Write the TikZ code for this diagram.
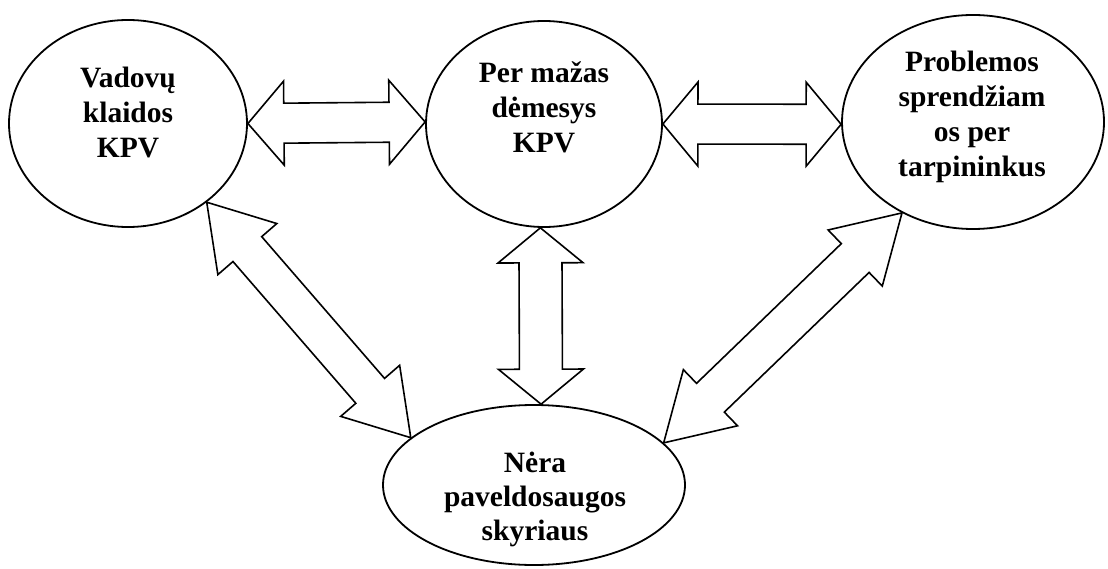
\documentclass[tikz,border=0pt]{standalone}
\usepackage{fontspec}
\setmainfont{Liberation Serif}
\usetikzlibrary{shapes.geometric,calc}

\tikzset{
  bubble/.style={ellipse, draw, line width=1.8pt, inner sep=0pt},
  caption/.style={font=\bfseries\fontsize{29.5}{35}\selectfont, align=center, inner sep=0pt},
  fat/.style={draw, line width=1.6pt, line join=miter},
}

% Block double arrow between two tips:
% #1, #2 tips; #3 head length; #4 head half-width; #5 shaft half-width
\newcommand\fatarrow[5]{%
  \draw[fat] (#1)
    -- ($(#1)!#3!(#2)!#4!90:(#2)$)
    -- ($(#1)!#3!(#2)!#5!90:(#2)$)
    -- ($(#2)!#3!(#1)!#5!-90:(#1)$)
    -- ($(#2)!#3!(#1)!#4!-90:(#1)$)
    -- (#2)
    -- ($(#2)!#3!(#1)!#4!90:(#1)$)
    -- ($(#2)!#3!(#1)!#5!90:(#1)$)
    -- ($(#1)!#3!(#2)!#5!-90:(#2)$)
    -- ($(#1)!#3!(#2)!#4!-90:(#2)$)
    -- cycle;}

\begin{document}
\begin{tikzpicture}[x=1pt, y=-1pt]
  \useasboundingbox (0,0) rectangle (1108,569);

  % ellipses
  \node[bubble, minimum width=238pt, minimum height=207pt] (L) at (128,123.5) {};
  \node[bubble, minimum width=236pt, minimum height=206pt] (M) at (544,124) {};
  \node[bubble, minimum width=262pt, minimum height=214pt] (R) at (973,122) {};
  \node[bubble, minimum width=302pt, minimum height=160pt] (B) at (534,485) {};

  % captions
  \node[caption] (Ltxt) at (128,112) {Vadovų\\klaidos\\KPV};
  \node[caption] (Mtxt) at (544,107.5) {Per mažas\\dėmesys\\KPV};
  \node[caption] (Rtxt) at (972,117) {Problemos\\sprendžiam\\os per\\tarpininkus};
  \node[caption, font=\bfseries\fontsize{29.5}{34}\selectfont] (Btxt) at (535,499)
    {Nėra\\paveldosaugos\\skyriaus};

  % block arrows between the ellipses
  \fatarrow{L.-0.7}{M.179.5}{36pt}{42pt}{20pt}
  \fatarrow{M.-0.5}{R.181.5}{35pt}{42pt}{20pt}
  \fatarrow{M.-92.2}{B.85.7}{35pt}{42.5pt}{21.5pt}
  \fatarrow{L.-45.2}{B.159}{62pt}{39pt}{19pt}
  \fatarrow{R.-128.2}{B.18.5}{65pt}{39pt}{20pt}
\end{tikzpicture}
\end{document}
